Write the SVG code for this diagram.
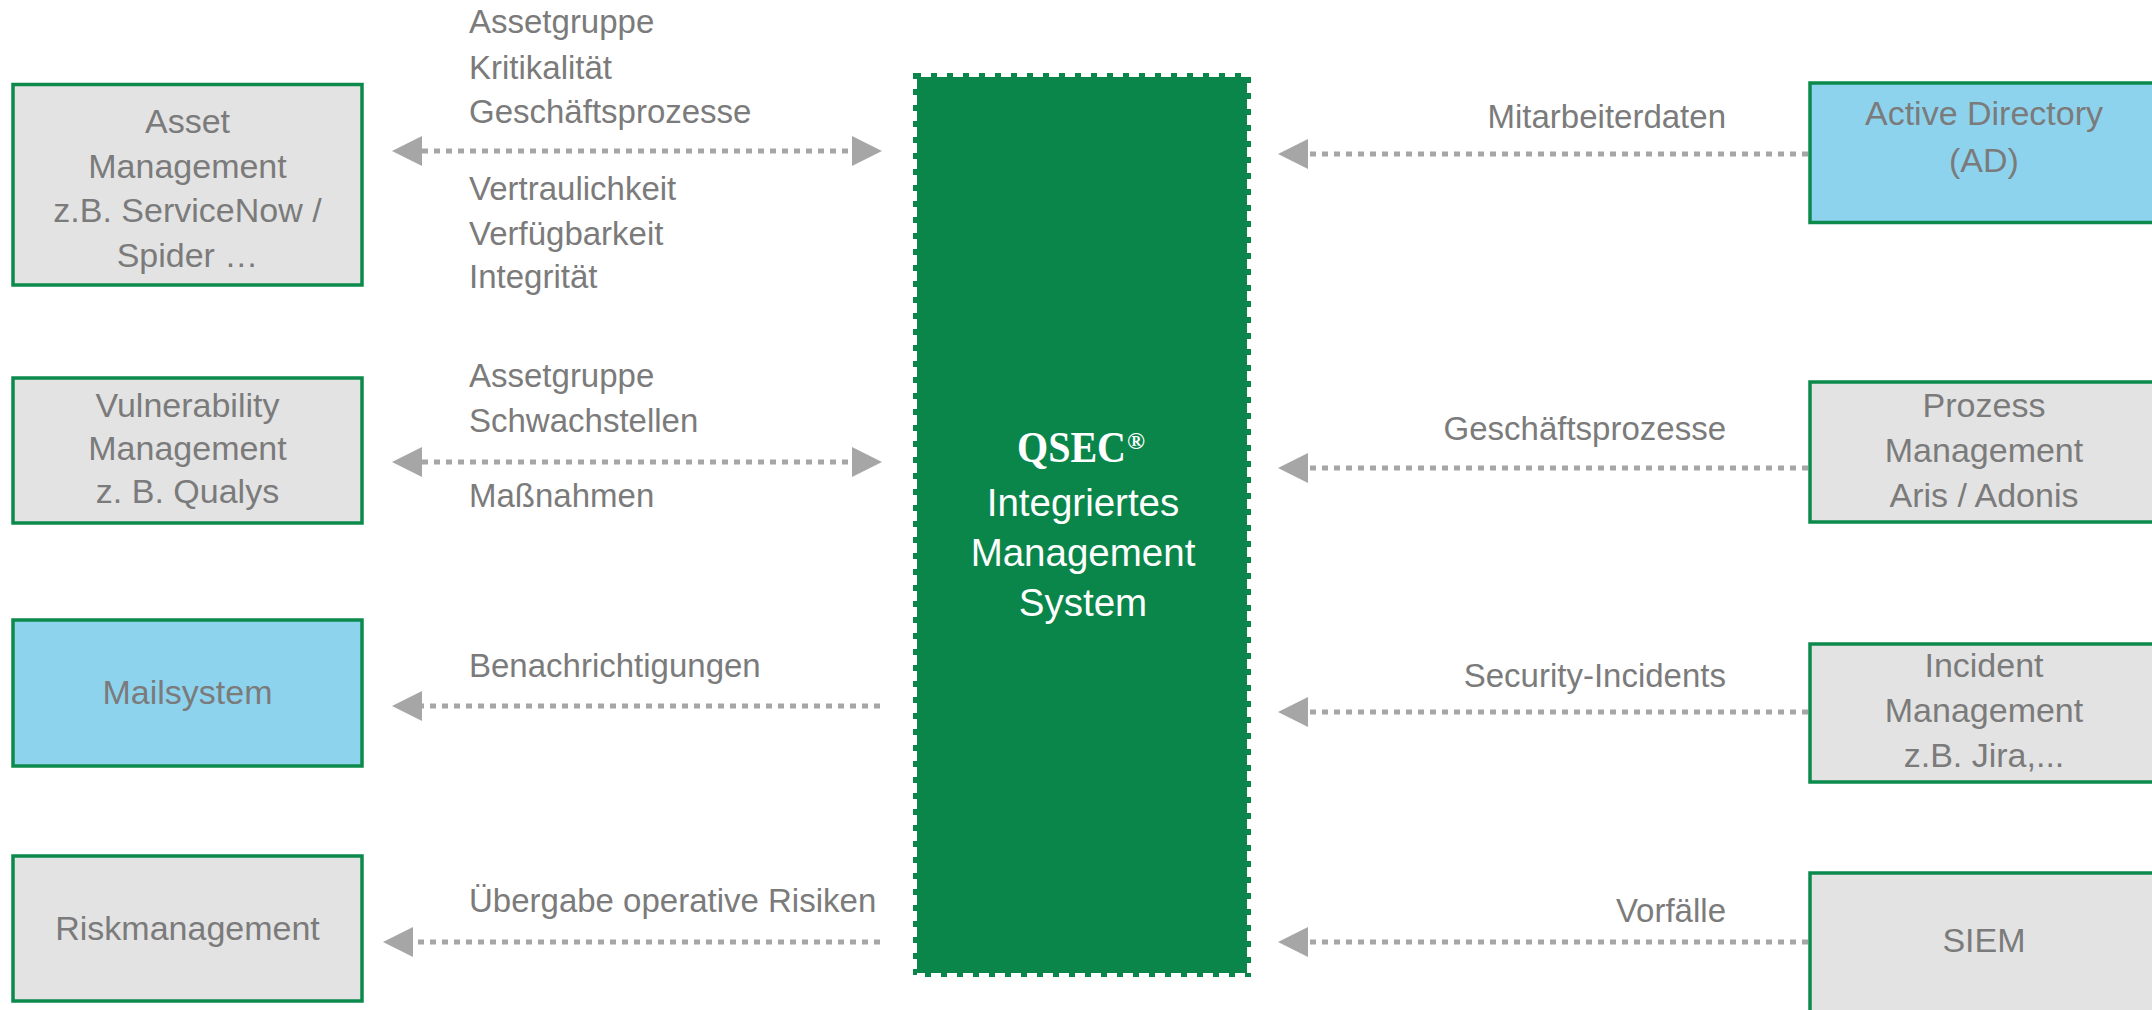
<svg xmlns="http://www.w3.org/2000/svg" width="2152" height="1010" viewBox="0 0 2152 1010">
  <style>
    .box { stroke: #0b8a4c; stroke-width: 3.5; }
    .gray { fill: #e3e3e3; }
    .blue { fill: #8ed3ee; }
    .bt { font-family: "Liberation Sans", Arial, sans-serif; font-size: 34px; fill: #7b7b7b; text-anchor: middle; }
    .lbl { font-family: "Liberation Sans", Arial, sans-serif; font-size: 33px; fill: #7b7b7b; }
    .r { text-anchor: end; }
    .ct { font-family: "Liberation Sans", Arial, sans-serif; font-size: 38.5px; fill: #ffffff; text-anchor: middle; }
    .qs { font-family: "Liberation Serif", "Times New Roman", serif; font-weight: bold; fill: #ffffff; }
    .conn { stroke: #a6a6a6; stroke-width: 5; stroke-dasharray: 6 6; fill: none; }
  </style>
  <defs>
    <marker id="arr" viewBox="0 0 30 30" markerWidth="30" markerHeight="30" refX="0" refY="15" orient="auto-start-reverse" markerUnits="userSpaceOnUse">
      <path d="M0,0 L30,15 L0,30 Z" fill="#a6a6a6"/>
    </marker>
  </defs>
  <rect width="2152" height="1010" fill="#ffffff"/>

  <g id="connectors">
    <line class="conn" x1="422" y1="151" x2="852" y2="151" marker-start="url(#arr)" marker-end="url(#arr)"/>
    <line class="conn" x1="422" y1="462" x2="852" y2="462" marker-start="url(#arr)" marker-end="url(#arr)"/>
    <line class="conn" x1="880" y1="706" x2="422" y2="706" marker-end="url(#arr)"/>
    <line class="conn" x1="880" y1="942" x2="413" y2="942" marker-end="url(#arr)"/>
    <line class="conn" x1="1808" y1="154" x2="1308" y2="154" marker-end="url(#arr)"/>
    <line class="conn" x1="1808" y1="468" x2="1308" y2="468" marker-end="url(#arr)"/>
    <line class="conn" x1="1808" y1="712" x2="1308" y2="712" marker-end="url(#arr)"/>
    <line class="conn" x1="1808" y1="942" x2="1308" y2="942" marker-end="url(#arr)"/>
    <text class="lbl" x="469" y="33">Assetgruppe</text>
    <text class="lbl" x="469" y="79">Kritikalität</text>
    <text class="lbl" x="469" y="123">Geschäftsprozesse</text>
    <text class="lbl" x="469" y="200">Vertraulichkeit</text>
    <text class="lbl" x="469" y="245">Verfügbarkeit</text>
    <text class="lbl" x="469" y="288">Integrität</text>
    <text class="lbl" x="469" y="387">Assetgruppe</text>
    <text class="lbl" x="469" y="432">Schwachstellen</text>
    <text class="lbl" x="469" y="507">Maßnahmen</text>
    <text class="lbl" x="469" y="677">Benachrichtigungen</text>
    <text class="lbl" x="469" y="912">Übergabe operative Risiken</text>
    <text class="lbl r" x="1726" y="128">Mitarbeiterdaten</text>
    <text class="lbl r" x="1726" y="440">Geschäftsprozesse</text>
    <text class="lbl r" x="1726" y="687">Security-Incidents</text>
    <text class="lbl r" x="1726" y="922">Vorfälle</text>
  </g>

  <g id="asset">
    <rect class="box gray" x="13" y="84.5" width="349" height="200.5"/>
    <text class="bt" x="187.5" y="133">Asset</text>
    <text class="bt" x="187.5" y="178">Management</text>
    <text class="bt" x="187.5" y="222">z.B. ServiceNow /</text>
    <text class="bt" x="187.5" y="267">Spider …</text>
  </g>
  <g id="vulnerability">
    <rect class="box gray" x="13" y="378" width="349" height="145"/>
    <text class="bt" x="187.5" y="417">Vulnerability</text>
    <text class="bt" x="187.5" y="460">Management</text>
    <text class="bt" x="187.5" y="503">z. B. Qualys</text>
  </g>
  <g id="mailsystem">
    <rect class="box blue" x="13" y="620" width="349" height="146"/>
    <text class="bt" x="187.5" y="704">Mailsystem</text>
  </g>
  <g id="riskmanagement">
    <rect class="box gray" x="13" y="856" width="349" height="145"/>
    <text class="bt" x="187.5" y="940">Riskmanagement</text>
  </g>

  <g id="qsec">
    <rect x="917" y="77" width="330" height="896" fill="#0a864b"/>
    <rect x="915" y="75" width="334" height="900" fill="none" stroke="#0a864b" stroke-width="4" stroke-dasharray="6 10"/>
    <text class="qs" font-size="45" transform="translate(1017,462) scale(0.89,1)">QSEC</text>
    <text class="qs" x="1127" y="449" font-size="24">®</text>
    <text class="ct" x="1083" y="516">Integriertes</text>
    <text class="ct" x="1083" y="566">Management</text>
    <text class="ct" x="1083" y="616">System</text>
  </g>

  <g id="active-directory">
    <rect class="box blue" x="1810" y="83" width="349" height="139.5"/>
    <text class="bt" x="1984" y="125">Active Directory</text>
    <text class="bt" x="1984" y="172">(AD)</text>
  </g>
  <g id="prozess">
    <rect class="box gray" x="1810" y="382" width="349" height="140"/>
    <text class="bt" x="1984" y="417">Prozess</text>
    <text class="bt" x="1984" y="462">Management</text>
    <text class="bt" x="1984" y="507">Aris / Adonis</text>
  </g>
  <g id="incident">
    <rect class="box gray" x="1810" y="644" width="349" height="138"/>
    <text class="bt" x="1984" y="677">Incident</text>
    <text class="bt" x="1984" y="722">Management</text>
    <text class="bt" x="1984" y="767">z.B. Jira,...</text>
  </g>
  <g id="siem">
    <rect class="box gray" x="1810" y="873" width="349" height="160"/>
    <text class="bt" x="1984" y="952">SIEM</text>
  </g>
</svg>
